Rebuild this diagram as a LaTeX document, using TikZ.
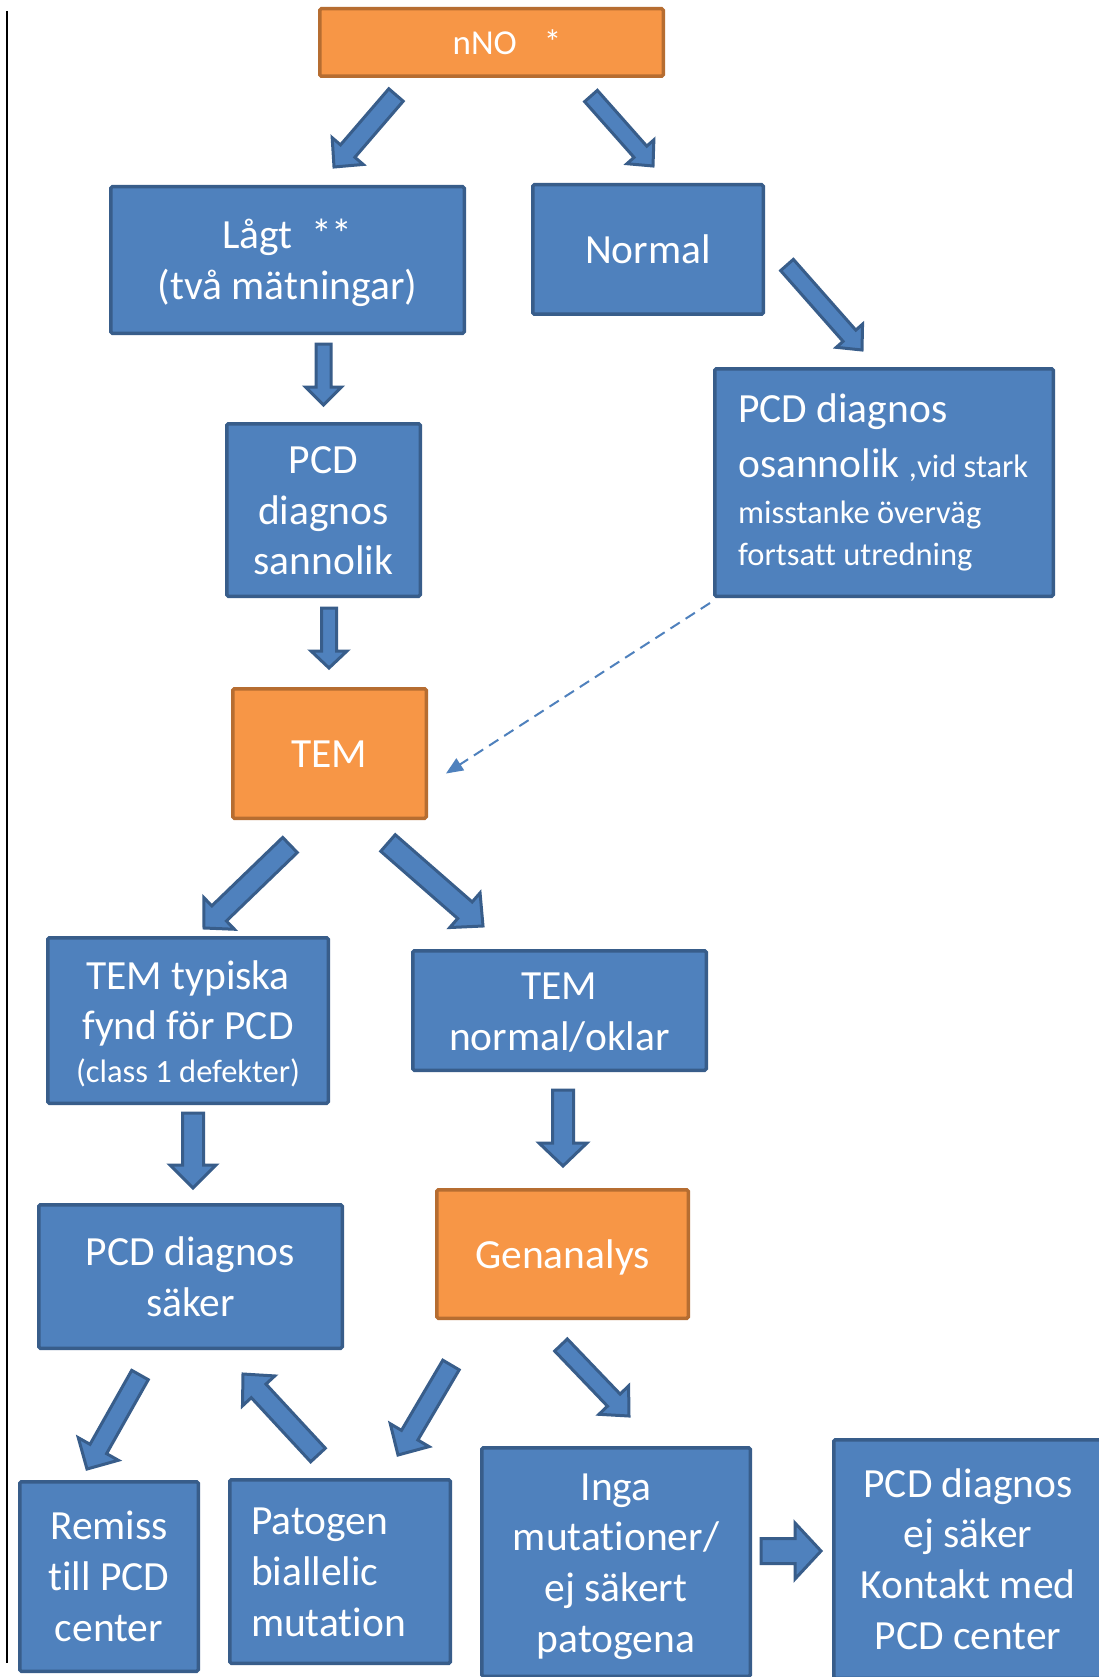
\documentclass[tikz,border=0pt]{standalone}
\usepackage{fontspec}
\setmainfont{Carlito}[Ligatures={NoCommon}]
\usetikzlibrary{calc,arrows.meta}
\definecolor{bfill}{HTML}{4F81BD}
\definecolor{bline}{HTML}{385D8A}
\definecolor{ofill}{HTML}{F79646}
\definecolor{oline}{HTML}{B66D31}
\newcommand\bigf{\fontsize{41.5pt}{50.7pt}\selectfont}
\newcommand\smallf{\fontsize{32.5pt}{40pt}\selectfont}
\newcommand\st{\rule[-0.269em]{0pt}{1.221em}}
\newcommand\blockarrow[5]{%
  \coordinate (bab) at ($(#2)!#5!(#1)$);
  \draw[barrow] ($(#1)!#3!90:(#2)$) -- ($(bab)!#3!90:(#2)$) -- ($(bab)!#4!90:(#2)$) -- (#2)
     -- ($(bab)!#4!-90:(#2)$) -- ($(bab)!#3!-90:(#2)$) -- ($(#1)!#3!-90:(#2)$) -- cycle;}
\tikzset{
  box/.style={draw=bline, fill=bfill, line width=3.5pt, rounded corners=1.5pt, inner sep=0pt,
    text=white, font=\bigf, align=center},
  obox/.style={box, draw=oline, fill=ofill},
  barrow/.style={draw=bline, fill=bfill, line width=3pt, line join=miter},
  dasharrow/.style={draw=bfill, line width=2pt, dash pattern=on 11pt off 7pt,
    -{Triangle[length=17pt,width=14pt]}},
  txt/.style={text=white, inner sep=0pt, anchor=base west, font=\bigf}
}
\begin{document}
\begin{tikzpicture}[x=1pt,y=-1pt]
\path[use as bounding box, clip] (0,0) rectangle (1099,1677);
\fill[white] (0,0) rectangle (1099,1677);

% left rule
\coordinate (l1) at (6.5,11);
\coordinate (l2) at (6.5,1663);
\draw[line width=2pt] (l1) -- (l2);

% boxes
\node[obox, font=\fontsize{35pt}{42.7pt}\selectfont, minimum width=343.5pt, minimum height=67.5pt] (nno) at (491.5,42.5) {\st\hspace*{31pt}nNO\hspace{27pt}*};
\node[box, minimum width=353.5pt, minimum height=146.5pt] (lagt) at (287.5,260) {\st Lågt\ \ **\\(två mätningar)\st};
\node[box, minimum width=230.5pt, minimum height=129.5pt] (normal) at (648,249.5) {\st Normal\st};
\node[box, minimum width=193.5pt, minimum height=172.5pt] (sann) at (323.5,510) {\st PCD\\diagnos\\sannolik\st};
\node[box, minimum width=338.5pt, minimum height=227.5pt] (osan) at (884,482.5) {};
\node[txt] (osan1) at (738,422) {PCD diagnos};
\node[txt] (osan2) at (738,477) {osannolik {\smallf ,vid stark}};
\node[txt, font=\smallf] (osan3) at (738,523) {misstanke överväg};
\node[txt, font=\smallf] (osan4) at (738,565) {fortsatt utredning};
\node[obox, minimum width=193.5pt, minimum height=129.5pt] (tem) at (329.5,753.5) {\st TEM\st};
\node[box, minimum width=280.5pt, minimum height=165.5pt] (typ) at (188,1020.5) {\st TEM typiska\\fynd för PCD\\[-8pt]{\smallf (class 1 defekter)\st}};
\node[box, minimum width=293.5pt, minimum height=119.5pt] (oklar) at (559.5,1010.5) {\st TEM\\normal/oklar\st};
\node[box, minimum width=303.5pt, minimum height=143.5pt] (saker) at (190.5,1276.5) {\st PCD diagnos\\säker\st};
\node[obox, minimum width=251.5pt, minimum height=128.5pt] (gen) at (562.5,1254) {\st Genanalys\st};
\node[box, minimum width=178.5pt, minimum height=189.5pt] (remiss) at (109,1576.5) {\st Remiss\\till PCD\\center\st};
\node[box, align=left, text width=178pt, minimum width=220.5pt, minimum height=183.5pt] (pato) at (340,1571.5) {\st Patogen\\biallelic\\mutation\st};
\node[box, minimum width=268.5pt, minimum height=228.5pt] (inga) at (616,1562) {\st Inga\\mutationer/\\ej säkert\\patogena\st};
\node[box, minimum width=268.5pt, minimum height=238.5pt] (ejs) at (968,1559) {\st PCD diagnos\\ej säker\\Kontakt med\\PCD center\st};

% block arrow end points
\coordinate (a1t) at (396,95);   \coordinate (a1h) at (334,167);
\coordinate (a2t) at (591,96);   \coordinate (a2h) at (653,166);
\coordinate (a3t) at (787,265);  \coordinate (a3h) at (862,350);
\coordinate (a4t) at (323.5,344);\coordinate (a4h) at (323.5,405);
\coordinate (a5t) at (329,608);  \coordinate (a5h) at (329,668);
\coordinate (a7t) at (290,845);  \coordinate (a7h) at (204,928);
\coordinate (a8t) at (388,843);  \coordinate (a8h) at (483,926);
\coordinate (a9t) at (193,1113); \coordinate (a9h) at (193,1188);
\coordinate (a10t) at (563,1090);\coordinate (a10h) at (563,1166);
\coordinate (a11t) at (140,1375);\coordinate (a11h) at (87,1469);
\coordinate (a12t) at (318,1455);\coordinate (a12h) at (243,1374);
\coordinate (a13t) at (451,1365);\coordinate (a13h) at (398,1455);
\coordinate (a14t) at (561,1345);\coordinate (a14h) at (629,1416);
\coordinate (a15t) at (761,1551);\coordinate (a15h) at (821,1551);

\blockarrow{a1t}{a1h}{9.5pt}{20.5pt}{21pt}
\blockarrow{a2t}{a2h}{8.5pt}{18pt}{19pt}
\blockarrow{a3t}{a3h}{8.5pt}{17.5pt}{19pt}
\blockarrow{a4t}{a4h}{7.5pt}{18pt}{18pt}
\blockarrow{a5t}{a5h}{7.5pt}{18pt}{17pt}
\blockarrow{a7t}{a7h}{10.5pt}{22pt}{21pt}
\blockarrow{a8t}{a8h}{11pt}{23pt}{24pt}
\blockarrow{a9t}{a9h}{10.5pt}{23pt}{23pt}
\blockarrow{a10t}{a10h}{10.5pt}{24pt}{23pt}
\blockarrow{a11t}{a11h}{9.5pt}{23pt}{23pt}
\blockarrow{a12t}{a12h}{10pt}{22pt}{23pt}
\blockarrow{a13t}{a13h}{9.5pt}{22.5pt}{23pt}
\blockarrow{a14t}{a14h}{8.75pt}{20.5pt}{22pt}
\blockarrow{a15t}{a15h}{12.5pt}{28pt}{26pt}

% dashed connector
\coordinate (dend) at ([shift={(18pt,-20pt)}]tem.east);
\draw[dasharrow] ([shift={(-3pt,-5pt)}]osan.south west) -- (dend);
\end{tikzpicture}
\end{document}
